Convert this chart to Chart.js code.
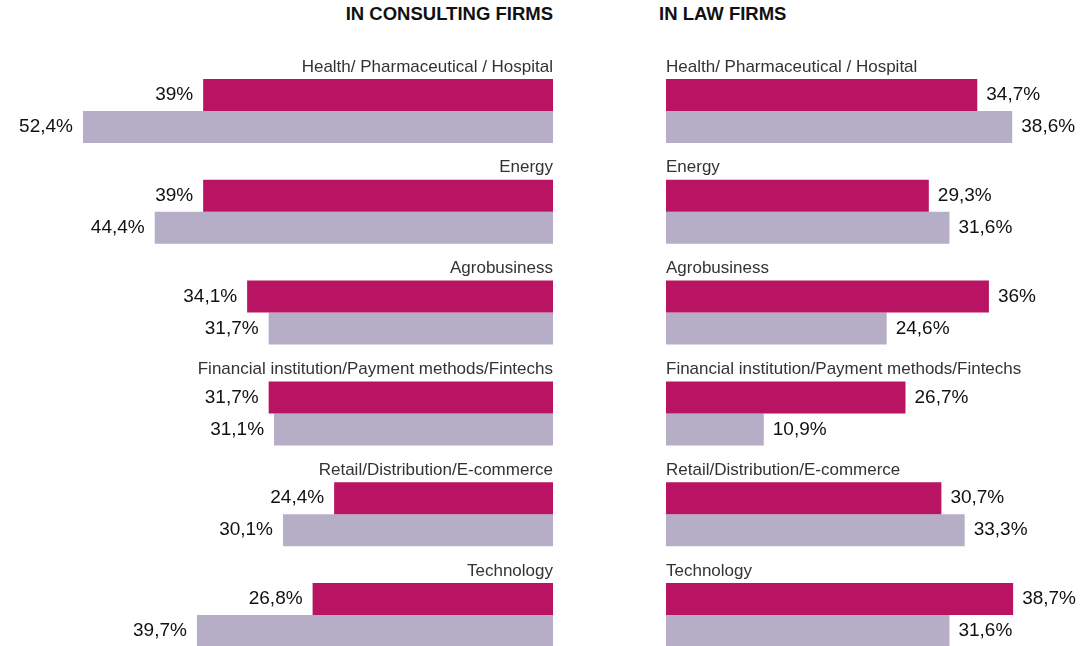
<!DOCTYPE html>
<html>
<head>
<meta charset="utf-8">
<script src="https://cdn.jsdelivr.net/npm/chart.js@4/dist/chart.umd.min.js"></script>
<style>
  html, body { margin:0; padding:0; width:1082px; height:646px; overflow:hidden; background:#fff; }
  .title { position:absolute; top:3px; font-family:"Liberation Sans", Arial, sans-serif; font-weight:bold; font-size:18.5px; color:#111; white-space:nowrap; }
  canvas { position:absolute; top:0; }
</style>
</head>
<body>
<div class="title" id="t1" style="right:529px;">IN CONSULTING FIRMS</div>
<div class="title" id="t2" style="left:659px;">IN LAW FIRMS</div>
<canvas id="c1" width="553" height="670" style="left:0;"></canvas>
<canvas id="c2" width="416" height="670" style="left:666px;"></canvas>
<script>
const categories = [
  "Health/ Pharmaceutical / Hospital",
  "Energy",
  "Agrobusiness",
  "Financial institution/Payment methods/Fintechs",
  "Retail/Distribution/E-commerce",
  "Technology"
];
const consultingA = [39, 39, 34.1, 31.7, 24.4, 26.8];
const consultingB = [52.4, 44.4, 31.7, 31.1, 30.1, 39.7];
const lawA = [34.7, 29.3, 36, 26.7, 30.7, 38.7];
const lawB = [38.6, 31.6, 24.6, 10.9, 33.3, 31.6];

const MAGENTA = '#B91463';
const GREY = '#B5AEC6';
const PX_PER_PCT = 8.97;

function fmt(v) { return String(v).replace('.', ',') + '%'; }

function labelPlugin(side) {
  return {
    id: 'labels' + side,
    afterDatasetsDraw(chart) {
      const ctx = chart.ctx;
      const area = chart.chartArea;
      ctx.save();
      // value labels
      ctx.font = '19px "Liberation Sans", Arial, sans-serif';
      ctx.fillStyle = '#111';
      ctx.textBaseline = 'middle';
      chart.data.datasets.forEach((ds, di) => {
        const meta = chart.getDatasetMeta(di);
        meta.data.forEach((bar, i) => {
          const txt = fmt(ds.data[i]);
          if (side === 'left') {
            ctx.textAlign = 'right';
            ctx.fillText(txt, bar.x - 10, bar.y);
          } else {
            ctx.textAlign = 'left';
            ctx.fillText(txt, bar.x + 9, bar.y);
          }
        });
      });
      // category labels
      ctx.font = '17px "Liberation Sans", Arial, sans-serif';
      ctx.fillStyle = '#333';
      const meta0 = chart.getDatasetMeta(0);
      meta0.data.forEach((bar, i) => {
        const top = bar.y - bar.height / 2;
        if (side === 'left') {
          ctx.textAlign = 'right';
          ctx.fillText(chart.data.labels[i], area.right, top - 12);
        } else {
          ctx.textAlign = 'left';
          ctx.fillText(chart.data.labels[i], area.left, top - 12);
        }
      });
      ctx.restore();
    }
  };
}

function makeChart(id, a, b, side, width) {
  return new Chart(document.getElementById(id), {
    type: 'bar',
    data: {
      labels: categories,
      datasets: [
        { data: a, backgroundColor: MAGENTA, categoryPercentage: 64 / 100.8, barPercentage: 1.0 },
        { data: b, backgroundColor: GREY, categoryPercentage: 64 / 100.8, barPercentage: 1.0 }
      ]
    },
    options: {
      indexAxis: 'y',
      responsive: false,
      animation: false,
      devicePixelRatio: 1,
      layout: { padding: { top: 60.6, bottom: 4.6, left: 0, right: 0 } },
      plugins: { legend: { display: false }, tooltip: { enabled: false } },
      scales: {
        x: { display: false, min: 0, max: width / PX_PER_PCT, reverse: side === 'left', grid: { display: false } },
        y: { display: false, grid: { display: false } }
      }
    },
    plugins: [labelPlugin(side)]
  });
}

makeChart('c1', consultingA, consultingB, 'left', 553);
makeChart('c2', lawA, lawB, 'right', 416);
</script>
</body>
</html>
